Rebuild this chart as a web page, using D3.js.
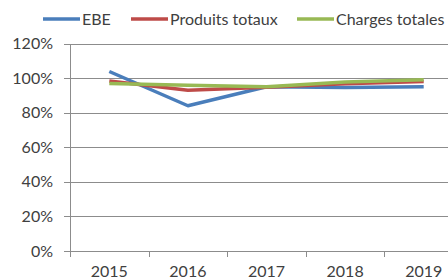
<!DOCTYPE html>
<html>
<head>
<meta charset="utf-8">
<script src="https://cdn.jsdelivr.net/npm/d3@7"></script>
<style>
  body { margin: 0; background: #fff; overflow: hidden; }
  text { font-family: Lato, "Open Sans", sans-serif; fill: #404040; }
</style>
</head>
<body>
<script>
var years = ['2015', '2016', '2017', '2018', '2019'];
var ebe = [103.8, 84, 95, 94.5, 95];
var produits = [98.3, 93, 94.7, 96.7, 98];
var charges = [96.8, 95.8, 95, 97.8, 99];
var yTicks = [0, 20, 40, 60, 80, 100, 120];
var seriesNames = ['EBE', 'Produits totaux', 'Charges totales'];
var seriesColors = ['#4a7ebb', '#be4b48', '#98b954'];

var svgWidth = 448;
var svgHeight = 279;

var svg = d3.select('body').append('svg').attr('width', svgWidth).attr('height', svgHeight);

var x = d3.scaleBand().domain(years).range([70, 463]);
var y = d3.scaleLinear().domain([0, 120]).range([251, 43.5]);

// gridlines
svg.selectAll('line.grid')
    .data(yTicks)
    .enter()
    .append('line')
    .attr('class', 'grid')
    .attr('x1', 64)
    .attr('x2', svgWidth)
    .attr('y1', function (d) { return Math.round(y(d)) + 0.5; })
    .attr('y2', function (d) { return Math.round(y(d)) + 0.5; })
    .attr('stroke', '#8c8c8c')
    .attr('stroke-width', 1);

// y axis line
svg.append('line')
    .attr('x1', 70.5).attr('x2', 70.5)
    .attr('y1', Math.round(y(120)) + 0.5).attr('y2', Math.round(y(0)) + 0.5)
    .attr('stroke', '#8c8c8c');

// x ticks at category boundaries
svg.selectAll('line.xtick')
    .data(years.concat(['end']))
    .enter()
    .append('line')
    .attr('class', 'xtick')
    .attr('x1', function (d, i) { return Math.round(70 + i * x.bandwidth()) + 0.5; })
    .attr('x2', function (d, i) { return Math.round(70 + i * x.bandwidth()) + 0.5; })
    .attr('y1', Math.round(y(0)) + 0.5)
    .attr('y2', Math.round(y(0)) + 6)
    .attr('stroke', '#8c8c8c');

// y labels
svg.selectAll('text.ylab')
    .data(yTicks)
    .enter()
    .append('text')
    .attr('class', 'ylab')
    .attr('x', 53)
    .attr('y', function (d) { return y(d); })
    .attr('dy', '0.35em')
    .attr('text-anchor', 'end')
    .style('font-size', '16px')
    .text(function (d) { return d + '%'; });

// x labels
var xAxis = svg.append('g')
    .attr('transform', 'translate(0,' + 277 + ')')
    .call(d3.axisBottom(x).tickSize(0).tickPadding(0));
xAxis.select('.domain').remove();
xAxis.selectAll('text')
    .style('font-size', '16px')
    .style('font-family', 'Lato, sans-serif')
    .attr('fill', '#404040')
    .attr('y', 0)
    .attr('dy', 0);

var line = d3.line()
    .x(function (d, i) { return x(years[i]) + x.bandwidth() / 2; })
    .y(function (d) { return y(d); });

var allSeries = [ebe, produits, charges];

svg.selectAll('path.series')
    .data(allSeries)
    .enter()
    .append('path')
    .attr('class', 'series')
    .attr('d', line)
    .attr('fill', 'none')
    .attr('stroke', function (d, i) { return seriesColors[i]; })
    .attr('stroke-width', 3.5)
    .attr('stroke-linejoin', 'round');

// legend
var legendX = [43, 131, 297];
var legend = svg.selectAll('g.legend')
    .data(seriesNames)
    .enter()
    .append('g')
    .attr('class', 'legend')
    .attr('transform', function (d, i) { return 'translate(' + legendX[i] + ',19)'; });

legend.append('line')
    .attr('x1', 0).attr('x2', 37)
    .attr('y1', 0).attr('y2', 0)
    .attr('stroke', function (d, i) { return seriesColors[i]; })
    .attr('stroke-width', 3.5);

legend.append('text')
    .attr('x', 39)
    .attr('dy', '0.35em')
    .style('font-size', '16px')
    .text(function (d) { return d; });
</script>
</body>
</html>
